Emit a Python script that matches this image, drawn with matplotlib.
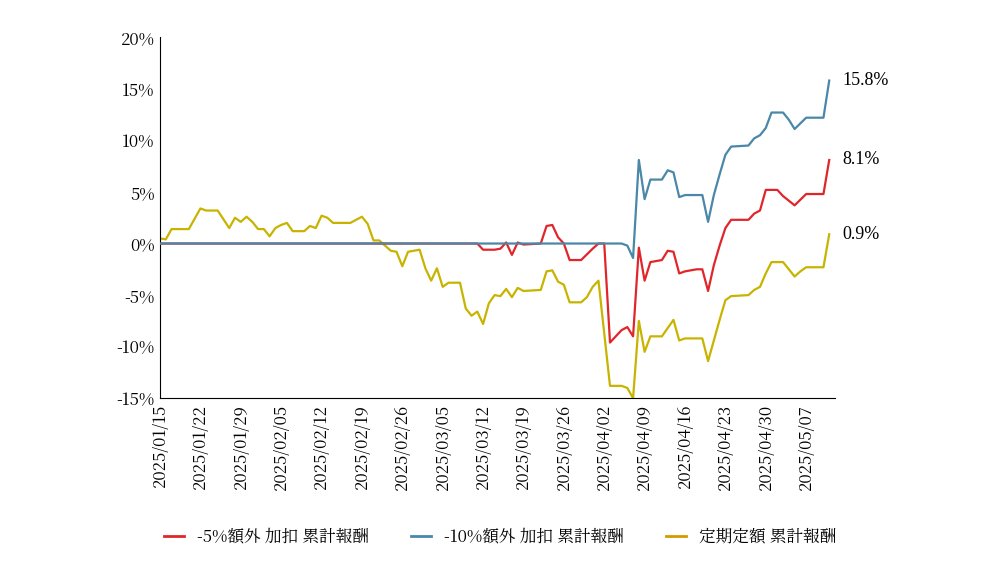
import matplotlib
matplotlib.use("Agg")
import matplotlib.pyplot as plt
from matplotlib import font_manager
import datetime as dt

cjk = [f.name for f in font_manager.fontManager.ttflist if "CJK" in f.name]
pref = [n for n in cjk if "TC" in n] or cjk
plt.rcParams["font.family"] = "sans-serif"
plt.rcParams["font.sans-serif"] = (pref[:1] if pref else []) + ["Noto Sans CJK TC", "DejaVu Sans"]

start = dt.date(2025, 1, 15)
yellow_days = [0,1,2,5,7,8,10,12,13,14,15,16,17,18,19,20,21,22,23,24,25,26,27,28,29,30,33,35,36,37,38,40,41,42,43,45,46,47,48,49,50,52,53,54,55,56,57,58,59,60,61,62,63,66,67,68,69,70,71,73,74,75,76,78,80,81,82,83,84,85,87,89,90,91,94,95,96,97,98,99,102,103,104,105,106,108,109,110,111,112,115,116]
yellow_vals = [0.5,0.4,1.4,1.4,3.4,3.2,3.2,1.5,2.5,2.1,2.6,2.1,1.4,1.4,0.7,1.5,1.8,2.0,1.2,1.2,1.2,1.7,1.5,2.7,2.5,2.0,2.0,2.6,1.9,0.3,0.3,-0.7,-0.8,-2.2,-0.8,-0.6,-2.4,-3.6,-2.4,-4.2,-3.8,-3.8,-6.3,-7.0,-6.6,-7.8,-5.8,-5.0,-5.1,-4.4,-5.2,-4.3,-4.6,-4.5,-2.7,-2.6,-3.7,-4.0,-5.7,-5.7,-5.2,-4.2,-3.6,-13.8,-13.8,-14.0,-15.0,-7.5,-10.5,-9.0,-9.0,-7.4,-9.4,-9.2,-9.2,-11.4,-9.4,-7.4,-5.5,-5.1,-5.0,-4.5,-4.2,-2.9,-1.8,-1.8,-2.5,-3.2,-2.7,-2.3,-2.3,0.9]
red_days = [0,55,56,58,59,60,61,62,63,66,67,68,69,70,71,73,75,76,77,78,80,81,82,83,84,85,87,88,89,90,91,93,94,95,96,97,98,99,102,103,104,105,107,108,110,112,115,116]
red_vals = [0,0,-0.6,-0.6,-0.5,0.1,-1.1,0.1,-0.1,0,1.7,1.8,0.6,0.0,-1.6,-1.6,-0.5,0,0,-9.6,-8.4,-8.1,-9.0,-0.4,-3.6,-1.8,-1.6,-0.7,-0.8,-2.9,-2.7,-2.5,-2.5,-4.6,-2.1,-0.2,1.5,2.3,2.3,2.9,3.2,5.2,5.2,4.6,3.7,4.8,4.8,8.1]
blue_days = [0,80,81,82,83,84,85,87,88,89,90,91,94,95,96,97,98,99,102,103,104,105,106,108,109,110,112,115,116]
blue_vals = [0,0,-0.2,-1.4,8.1,4.3,6.2,6.2,7.1,6.9,4.5,4.7,4.7,2.1,4.7,6.7,8.6,9.4,9.5,10.2,10.5,11.2,12.7,12.7,12.0,11.1,12.2,12.2,15.8]
labels = ["-5%額外 加扣 累計報酬", "-10%額外 加扣 累計報酬", "定期定額 累計報酬"]
colors = ["#e0262b", "#4a87a8", "#c8b400"]
legend_colors = ["#e0262b", "#4a87a8", "#d49a00"]

def to_dates(days):
    return [start + dt.timedelta(days=d) for d in days]

fig = plt.figure(figsize=(10, 5.73), dpi=100)
ax = fig.add_axes([0.16, 0.305, 0.675, 0.63])
ax.plot(to_dates(yellow_days), yellow_vals, color=colors[2], lw=1.6, zorder=2)
ax.plot(to_dates(red_days), red_vals, color=colors[0], lw=1.6, zorder=3)
ax.plot(to_dates(blue_days), blue_vals, color=colors[1], lw=1.6, zorder=4)

ax.set_ylim(-15, 20)
ax.set_yticks(range(-15, 21, 5))
ax.set_yticklabels([f"{v}%" for v in range(-15, 21, 5)], fontsize=12)
ax.set_xlim(start - dt.timedelta(days=0.9), start + dt.timedelta(days=117.2))
ticks = [start + dt.timedelta(days=7 * i) for i in range(17)]
ax.set_xticks(ticks)
ax.set_xticklabels([t.strftime("%Y/%m/%d") for t in ticks], rotation=90, fontsize=12)
for s in ["top", "right"]:
    ax.spines[s].set_visible(False)
ax.tick_params(length=0, pad=4)

for vals, txt in [(blue_vals, "15.8%"), (red_vals, "8.1%"), (yellow_vals, "0.9%")]:
    ax.annotate(txt, (1.0, vals[-1]), xycoords=("axes fraction", "data"),
                xytext=(5, 0), textcoords="offset points", va="center",
                fontsize=13, fontfamily="Liberation Serif")

handles = [plt.Line2D([], [], color=c, lw=2) for c in legend_colors]
fig.legend(handles, labels, loc="center", bbox_to_anchor=(0.5, 0.063), ncol=3,
           frameon=False, fontsize=12, handlelength=1.2, columnspacing=2.5)
fig.savefig("out.png", dpi=100)
